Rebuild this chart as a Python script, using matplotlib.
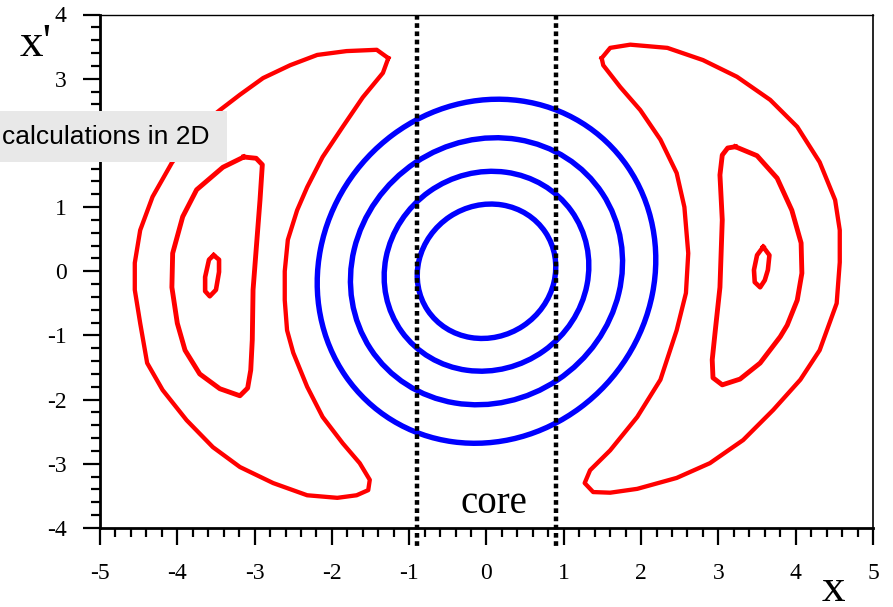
'''Phase space portrait: core rings (blue) and halo islands (red).'''

import matplotlib
matplotlib.use('Agg')
import matplotlib.pyplot as plt
from matplotlib.patches import Ellipse, Rectangle
from matplotlib.ticker import MultipleLocator
import numpy as np

matplotlib.rcParams['font.family'] = 'serif'
matplotlib.rcParams['font.serif'] = ['Liberation Serif', 'DejaVu Serif']
matplotlib.rcParams['axes.unicode_minus'] = False

# ===============================================================
#  Data
# ===============================================================
# core rings: half widths, half heights and x-y tilt term
ring_hw = [0.896, 1.324, 1.76, 2.19]
ring_hh = [1.047, 1.557, 2.08, 2.68]
ring_sxy = [0.060, 0.113, 0.256, 0.40]

# left halo crescent
left_cres_x = [-1.27, -1.42, -1.81, -2.19, -2.54, -2.89, -3.19, -3.45, -3.77, -4.07,
               -4.32, -4.48, -4.55, -4.55, -4.48, -4.39, -4.19, -3.88, -3.54, -3.19,
               -2.76, -2.32, -1.93, -1.68, -1.53, -1.51, -1.64, -1.86, -2.12, -2.32,
               -2.50, -2.58, -2.61, -2.61, -2.57, -2.45, -2.32, -2.12, -1.86, -1.60,
               -1.34]
left_cres_y = [3.32, 3.45, 3.43, 3.37, 3.21, 3.01, 2.75, 2.51, 2.20, 1.69,
               1.16, 0.64, 0.13, -0.29, -0.81, -1.43, -1.85, -2.32, -2.74, -3.05,
               -3.30, -3.49, -3.53, -3.49, -3.41, -3.25, -2.99, -2.68, -2.27, -1.80,
               -1.27, -0.92, -0.45, 0.00, 0.49, 0.95, 1.31, 1.78, 2.25, 2.71,
               3.09]

# left island boundary
left_d_x = [-3.14, -2.98, -2.90, -2.93, -2.97, -3.02, -3.03, -3.05, -3.09, -3.19,
            -3.45, -3.71, -3.90, -4.00, -4.07, -4.06, -3.93, -3.75, -3.41]
left_d_y = [1.78, 1.76, 1.66, 1.11, 0.49, -0.29, -1.07, -1.54, -1.82, -1.94,
            -1.83, -1.60, -1.23, -0.81, -0.25, 0.28, 0.85, 1.27, 1.62]

# left island centre orbit
left_c_x = [-3.53, -3.46, -3.46, -3.50, -3.58, -3.64, -3.64, -3.59]
left_c_y = [0.25, 0.18, -0.01, -0.29, -0.39, -0.31, -0.09, 0.18]

# right halo crescent
right_cres_x = [1.49, 1.60, 1.86, 2.34, 2.80, 3.24, 3.67, 4.02, 4.31, 4.51,
                4.57, 4.57, 4.53, 4.31, 4.06, 3.71, 3.32, 2.89, 2.46, 1.95,
                1.60, 1.38, 1.27, 1.34, 1.60, 1.95, 2.25, 2.46, 2.58, 2.61,
                2.56, 2.46, 2.25, 1.99, 1.73, 1.51]
right_cres_y = [3.32, 3.48, 3.53, 3.48, 3.29, 3.03, 2.67, 2.25, 1.70, 1.11,
                0.64, 0.14, -0.50, -1.23, -1.69, -2.16, -2.63, -2.99, -3.22, -3.39,
                -3.45, -3.44, -3.30, -3.10, -2.79, -2.27, -1.69, -0.92, -0.34, 0.28,
                1.00, 1.53, 2.05, 2.51, 2.87, 3.21]

# right island boundary
right_d_x = [3.22, 3.50, 3.76, 3.95, 4.07, 4.08, 4.02, 3.89, 3.80, 3.54,
             3.28, 3.05, 2.93, 2.92, 2.96, 3.02, 3.05, 3.02, 3.05, 3.12]
right_d_y = [1.94, 1.80, 1.45, 0.95, 0.44, -0.03, -0.45, -0.84, -1.02, -1.43,
             -1.68, -1.77, -1.66, -1.38, -0.92, -0.25, 0.80, 1.50, 1.81, 1.92]

# right island centre orbit
right_c_x = [3.58, 3.66, 3.64, 3.60, 3.54, 3.47, 3.46, 3.50]
right_c_y = [0.38, 0.25, 0.02, -0.14, -0.25, -0.17, 0.02, 0.25]

core_edges = [-0.9, 0.9]


def closed(xs, ys):
    return list(xs) + [xs[0]], list(ys) + [ys[0]]


# ===============================================================
#  Figure
# ===============================================================
fig = plt.figure(figsize=(8.93, 6.07), dpi=100)
ax = fig.add_axes([100/893, 79/607, 773/893, 513.5/607])

# blue rings
for hw, hh, sxy in zip(ring_hw, ring_hh, ring_sxy):
    S = np.array([[hw**2, sxy], [sxy, hh**2]])
    vals, vecs = np.linalg.eigh(S)
    ang = np.degrees(np.arctan2(vecs[1, 1], vecs[0, 1])) - 90
    ax.add_patch(Ellipse((0, 0), 2*np.sqrt(vals[0]), 2*np.sqrt(vals[1]),
                         angle=ang, fill=False, ec='#0000ff', lw=3.9))

# red curves
for xs, ys, w in [(left_cres_x, left_cres_y, 3.1), (right_cres_x, right_cres_y, 3.1),
                  (left_d_x, left_d_y, 3.5), (right_d_x, right_d_y, 3.5),
                  (left_c_x, left_c_y, 3.3), (right_c_x, right_c_y, 3.3)]:
    cx, cy = closed(xs, ys)
    ax.plot(cx, cy, color='#ff0000', lw=w, solid_joinstyle='round')

# core limits
for xc in core_edges:
    ax.plot([xc, xc], [4, -4.3], color='black', lw=3.2, dashes=[1.05, 0.8],
            clip_on=False, zorder=5)

ax.text(0.1, -3.62, 'core', fontsize=28, ha='center', va='center')

ax.set_xlim(-5, 5)
ax.set_ylim(-4, 4)
ax.xaxis.set_major_locator(MultipleLocator(1))
ax.xaxis.set_minor_locator(MultipleLocator(0.2))
ax.yaxis.set_major_locator(MultipleLocator(1))
ax.yaxis.set_minor_locator(MultipleLocator(0.2))
ax.tick_params(which='both', direction='out', top=False, right=False, width=1.6)
ax.tick_params(which='major', length=12, labelsize=17)
ax.tick_params(axis='x', which='major', pad=13)
ax.tick_params(axis='y', which='major', pad=12)
ax.tick_params(which='minor', length=6.5)
ax.spines['left'].set_linewidth(2)
ax.spines['bottom'].set_linewidth(2)
ax.spines['top'].set_linewidth(1)
ax.spines['right'].set_linewidth(1.2)

fig.text(36/893, (607-45)/607, "x'", fontsize=34, ha='center', va='center')
fig.text(833/893, (607-590)/607, 'x', fontsize=34, ha='center', va='center')

# label box over the left edge
fig.add_artist(Rectangle((0, (607-162)/607), 227/893, 51/607,
                         transform=fig.transFigure, fc='#e8e8e8', ec='none'))
fig.text(2/893, (607-137)/607, 'calculations in 2D', family='Liberation Sans',
         fontsize=19, ha='left', va='center')

fig.savefig('out.png', dpi=100)
